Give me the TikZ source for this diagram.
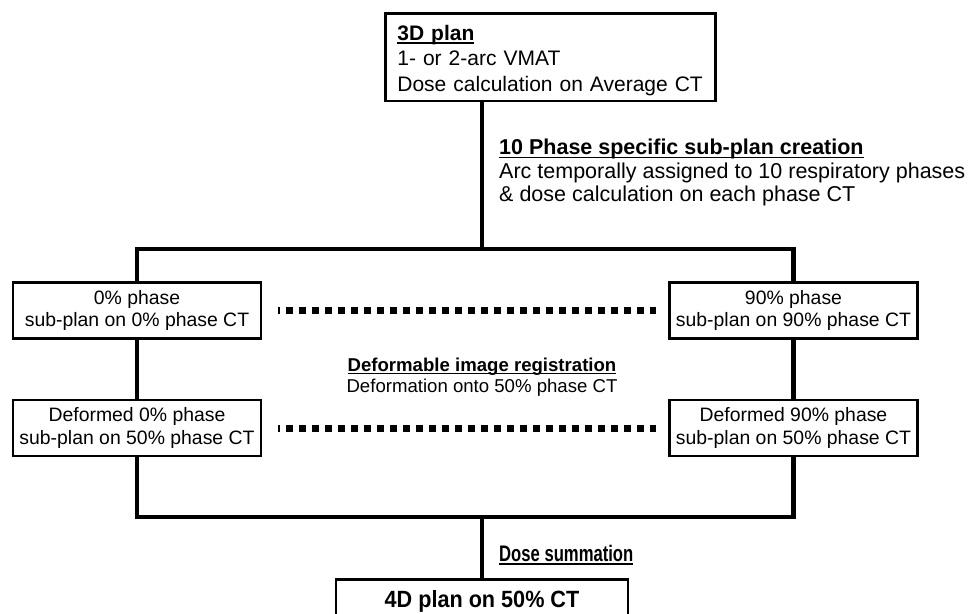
\documentclass[tikz,border=0pt]{standalone}
\usepackage{fontspec}
\setmainfont{Liberation Sans}
\newfontfamily\narrowsans[FakeStretch=0.92]{Liberation Sans}
\newfontfamily\condsans[FakeStretch=0.74]{Liberation Sans}
\usetikzlibrary{positioning}
\newcommand{\ulword}[1]{\setbox0\hbox{#1}\rlap{\rule[-0.16em]{\wd0}{0.08em}}\box0}

\begin{document}
\begin{tikzpicture}[x=1pt,y=-1pt,
  planbox/.style={draw,line width=2.8pt,fill=white,inner sep=0pt},
  phasebox/.style={planbox,minimum width=248pt,minimum height=56pt,align=center,
    font=\fontsize{19.4}{22.5}\selectfont},
  link/.style={line width=4.4pt},
  dotrow/.style={line width=7pt,dash pattern=on 7pt off 6pt,dash phase=5pt},
  note/.style={inner sep=0pt,font=\fontsize{21.5}{23.5}\selectfont}]
  \useasboundingbox (0,0) rectangle (969,613);
  \node[planbox,anchor=north west,text width=312pt,inner xsep=9pt,inner ysep=5.3pt,
    align=left,font=\fontsize{21}{25.3}\selectfont] (plan3d) at (384,12)
    {\rule{0pt}{22pt}\hspace{3pt}\textbf{\ulword{3D plan}}\\\hspace*{3pt}1- or 2-arc VMAT\\\hspace*{3pt}Dose calculation on Average CT};
  \coordinate (split) at (482,249);
  \draw[link] (plan3d.south -| split) -- (split);
  \node[note,anchor=north west,align=left] (subplans) at (499,139)
    {\textbf{\ulword{10 Phase specific sub-plan creation}}\\
     Arc temporally assigned to 10 respiratory phases\\
     \& dose calculation on each phase CT};
  % phase sub-plans
  \node[phasebox] (p0) at (137,310.5) {0\% phase\\sub-plan on 0\% phase CT};
  \node[phasebox] (p90) at (793.5,310.5) {90\% phase\\sub-plan on 90\% phase CT};
  \node[phasebox] (d0) at (137,428) {Deformed 0\% phase\\sub-plan on 50\% phase CT};
  \node[phasebox] (d90) at (793.5,428) {Deformed 90\% phase\\sub-plan on 50\% phase CT};
  \draw[link] (p0.north) |- (split) -| (p90.north);
  \draw[link] (p0) -- (d0);
  \draw[link] (p90) -- (d90);
  \draw[dotrow] ([xshift=16pt]p0.east) -- ([xshift=-12pt]p90.west);
  \draw[dotrow] ([xshift=16pt]d0.east) -- ([xshift=-12pt]d90.west);
  \node[inner sep=0pt,anchor=north,align=center,font=\fontsize{18.6}{21.5}\selectfont] (dir)
    at (482,357.5) {\textbf{\ulword{Deformable image registration}}\\Deformation onto 50\% phase CT};
  % summation
  \coordinate (merge) at (482,517);
  \node[planbox,anchor=north,minimum width=292pt,minimum height=44pt,
    font=\narrowsans\fontsize{23.5}{26}\selectfont\bfseries] (plan4d) at (482,578) {4D plan on 50\% CT};
  \draw[link] (d0.south) |- (merge) -| (d90.south);
  \draw[link] (merge) -- (plan4d.north);
  \node[inner sep=0pt,anchor=base west,font=\condsans\fontsize{22.5}{24}\selectfont\bfseries] (dosesum)
    at (499,561) {\ulword{Dose summation}};
\end{tikzpicture}
\end{document}
